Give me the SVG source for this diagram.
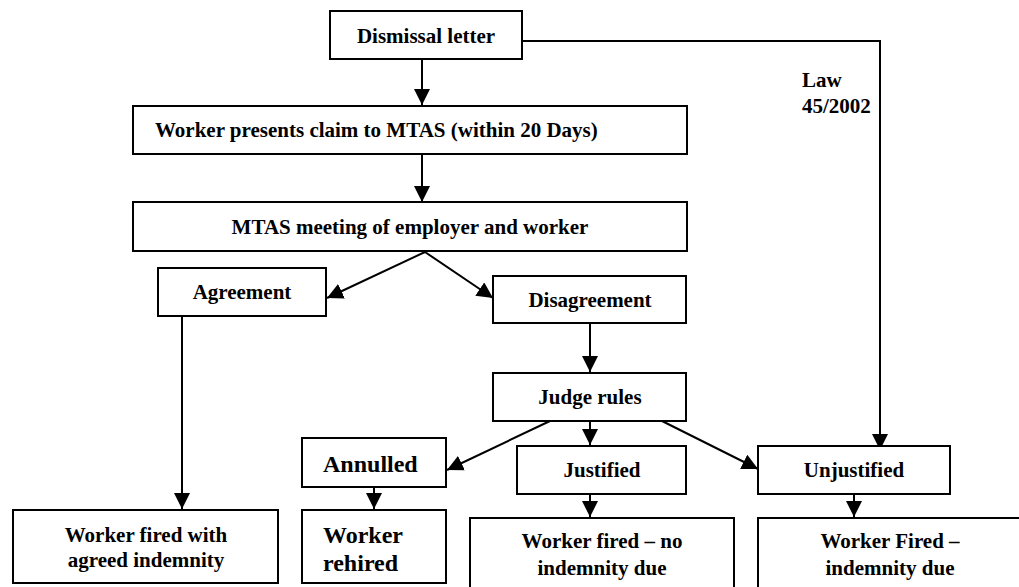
<svg xmlns="http://www.w3.org/2000/svg" width="1019" height="587" viewBox="0 0 1019 587">
<style>
.box{fill:#fff;stroke:#000;stroke-width:2}
.t{font-family:"Liberation Serif","Times New Roman",serif;font-weight:bold;font-size:21px;fill:#000}
.tl{font-size:24px}
.c{text-anchor:middle}
.e{fill:none;stroke:#000;stroke-width:2}
</style>
<defs>
<marker id="ah" markerUnits="userSpaceOnUse" markerWidth="16" markerHeight="16" refX="16" refY="8" orient="auto">
<path d="M0,0 L16,8 L0,16 z" fill="#000"/>
</marker>
</defs>
<rect width="1019" height="587" fill="#fff"/>
<g id="connectors">
<path class="e" d="M422,59 V105" marker-end="url(#ah)"/>
<path class="e" d="M422,154 V202" marker-end="url(#ah)"/>
<path class="e" d="M425,252 L327,298" marker-end="url(#ah)"/>
<path class="e" d="M425,252 L493,298" marker-end="url(#ah)"/>
<path class="e" d="M182,316 V509" marker-end="url(#ah)"/>
<path class="e" d="M590,323 V372" marker-end="url(#ah)"/>
<path class="e" d="M550,421 L447,470" marker-end="url(#ah)"/>
<path class="e" d="M590,421 V445" marker-end="url(#ah)"/>
<path class="e" d="M662,421 L758,469" marker-end="url(#ah)"/>
<path class="e" d="M374,487 V509" marker-end="url(#ah)"/>
<path class="e" d="M590,494 V517" marker-end="url(#ah)"/>
<path class="e" d="M854,494 V517" marker-end="url(#ah)"/>
<path class="e" d="M522,41 H880 V450" marker-end="url(#ah)"/>
<text class="t" x="802" y="87">Law</text>
<text class="t" x="802" y="113">45/2002</text>
</g>
<g id="dismissal"><rect class="box" x="330" y="11" width="192" height="48"/><text class="t c" x="426" y="43">Dismissal letter</text></g>
<g id="claim"><rect class="box" x="133" y="106" width="554" height="48"/><text class="t" x="155" y="137">Worker presents claim to MTAS (within 20 Days)</text></g>
<g id="meeting"><rect class="box" x="133" y="202" width="554" height="49"/><text class="t c" x="410" y="234">MTAS meeting of employer and worker</text></g>
<g id="agreement"><rect class="box" x="158" y="268" width="168" height="48"/><text class="t c" x="242" y="299">Agreement</text></g>
<g id="disagreement"><rect class="box" x="493" y="276" width="193" height="47"/><text class="t c" x="590" y="307">Disagreement</text></g>
<g id="judge"><rect class="box" x="493" y="373" width="193" height="48"/><text class="t c" x="590" y="404">Judge rules</text></g>
<g id="annulled"><rect class="box" x="302" y="438" width="144" height="49"/><text class="t tl" x="323" y="472">Annulled</text></g>
<g id="justified"><rect class="box" x="517" y="446" width="169" height="48"/><text class="t c" x="602" y="477">Justified</text></g>
<g id="unjustified"><rect class="box" x="758" y="446" width="192" height="48"/><text class="t c" x="854" y="477">Unjustified</text></g>
<g id="fired-agreed"><rect class="box" x="13" y="510" width="265" height="73"/><text class="t c" x="146" y="542">Worker fired with</text><text class="t c" x="146" y="567">agreed indemnity</text></g>
<g id="rehired"><rect class="box" x="302" y="510" width="144" height="73"/><text class="t tl" x="323" y="543">Worker</text><text class="t tl" x="323" y="571">rehired</text></g>
<g id="fired-no"><rect class="box" x="470" y="518" width="264" height="90"/><text class="t c" x="602" y="548">Worker fired – no</text><text class="t c" x="602" y="575">indemnity due</text></g>
<g id="fired-due"><rect class="box" x="758" y="518" width="280" height="90"/><text class="t c" x="890" y="548">Worker Fired –</text><text class="t c" x="890" y="575">indemnity due</text></g>
</svg>
